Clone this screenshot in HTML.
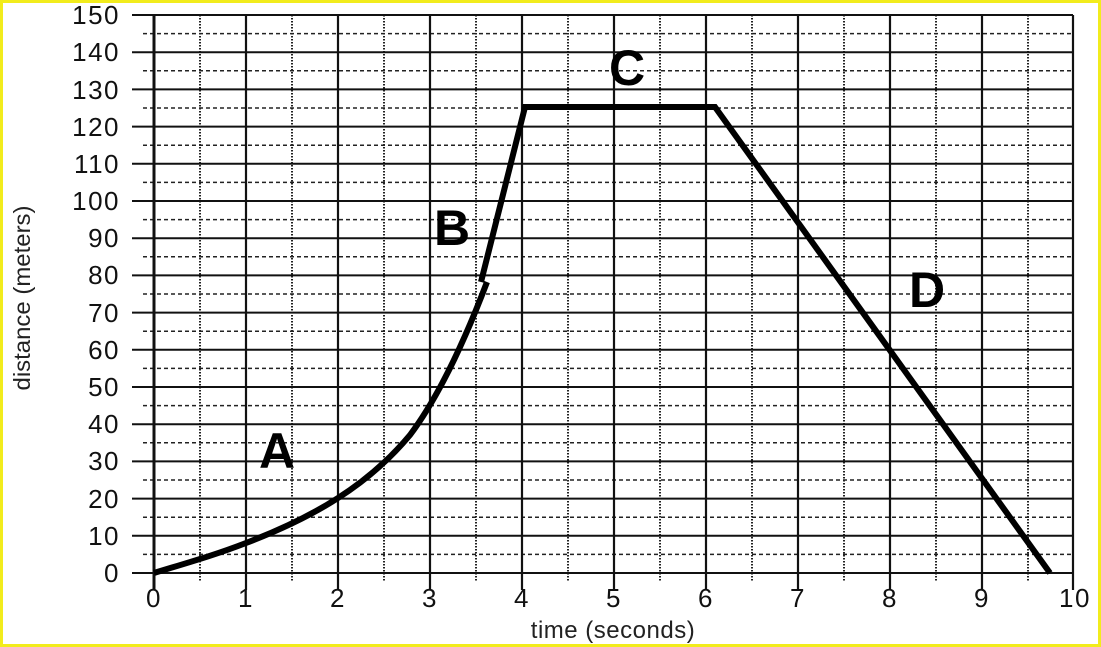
<!DOCTYPE html>
<html><head><meta charset="utf-8"><style>
html,body{margin:0;padding:0;background:#fff}
svg{display:block}
</style></head><body>
<svg width="1101" height="647" viewBox="0 0 1101 647" xmlns="http://www.w3.org/2000/svg">
<rect x="0" y="0" width="1101" height="647" fill="#fff"/>
<rect x="1.5" y="1.5" width="1098" height="644" fill="none" stroke="#f2ec1c" stroke-width="3"/>
<g id="grid">
<g stroke="#222" stroke-width="1.5" stroke-dasharray="4,3">
<line x1="143" x2="1073" y1="554.4" y2="554.4"/><line x1="143" x2="1073" y1="517.2" y2="517.2"/><line x1="143" x2="1073" y1="480" y2="480"/><line x1="143" x2="1073" y1="442.8" y2="442.8"/><line x1="143" x2="1073" y1="405.6" y2="405.6"/><line x1="143" x2="1073" y1="368.4" y2="368.4"/><line x1="143" x2="1073" y1="331.2" y2="331.2"/><line x1="143" x2="1073" y1="294" y2="294"/><line x1="143" x2="1073" y1="256.8" y2="256.8"/><line x1="143" x2="1073" y1="219.6" y2="219.6"/><line x1="143" x2="1073" y1="182.4" y2="182.4"/><line x1="143" x2="1073" y1="145.2" y2="145.2"/><line x1="143" x2="1073" y1="108" y2="108"/><line x1="143" x2="1073" y1="70.8" y2="70.8"/><line x1="143" x2="1073" y1="33.6" y2="33.6"/>
</g>
<g stroke="#222" stroke-width="2" stroke-dasharray="1.5,1.5">
<line y1="15" y2="581" x1="200" x2="200"/><line y1="15" y2="581" x1="292" x2="292"/><line y1="15" y2="581" x1="384" x2="384"/><line y1="15" y2="581" x1="476" x2="476"/><line y1="15" y2="581" x1="568" x2="568"/><line y1="15" y2="581" x1="660" x2="660"/><line y1="15" y2="581" x1="752" x2="752"/><line y1="15" y2="581" x1="844" x2="844"/><line y1="15" y2="581" x1="936" x2="936"/><line y1="15" y2="581" x1="1028" x2="1028"/>
</g>
<g stroke="#111" stroke-width="2">
<line x1="132" x2="1073" y1="573" y2="573"/><line x1="132" x2="1073" y1="535.8" y2="535.8"/><line x1="132" x2="1073" y1="498.6" y2="498.6"/><line x1="132" x2="1073" y1="461.4" y2="461.4"/><line x1="132" x2="1073" y1="424.2" y2="424.2"/><line x1="132" x2="1073" y1="387" y2="387"/><line x1="132" x2="1073" y1="349.8" y2="349.8"/><line x1="132" x2="1073" y1="312.6" y2="312.6"/><line x1="132" x2="1073" y1="275.4" y2="275.4"/><line x1="132" x2="1073" y1="238.2" y2="238.2"/><line x1="132" x2="1073" y1="201" y2="201"/><line x1="132" x2="1073" y1="163.8" y2="163.8"/><line x1="132" x2="1073" y1="126.6" y2="126.6"/><line x1="132" x2="1073" y1="89.4" y2="89.4"/><line x1="132" x2="1073" y1="52.2" y2="52.2"/><line x1="132" x2="1073" y1="15" y2="15"/>
</g>
<g stroke="#111" stroke-width="2.2">
<line y1="15" y2="590" x1="154" x2="154"/><line y1="15" y2="590" x1="246" x2="246"/><line y1="15" y2="590" x1="338" x2="338"/><line y1="15" y2="590" x1="430" x2="430"/><line y1="15" y2="590" x1="522" x2="522"/><line y1="15" y2="590" x1="614" x2="614"/><line y1="15" y2="590" x1="706" x2="706"/><line y1="15" y2="590" x1="798" x2="798"/><line y1="15" y2="590" x1="890" x2="890"/><line y1="15" y2="590" x1="982" x2="982"/><line y1="15" y2="590" x1="1073" x2="1073"/>
</g>
<line x1="154" x2="154" y1="15" y2="590" stroke="#111" stroke-width="3"/>
</g>
<g font-family="Liberation Sans, sans-serif" font-size="26" fill="#111" text-anchor="end" letter-spacing="1.5">
<text x="120" y="582">0</text><text x="120" y="545">10</text><text x="120" y="508">20</text><text x="120" y="470">30</text><text x="120" y="433">40</text><text x="120" y="396">50</text><text x="120" y="359">60</text><text x="120" y="322">70</text><text x="120" y="284">80</text><text x="120" y="247">90</text><text x="120" y="210">100</text><text x="120" y="173">110</text><text x="120" y="136">120</text><text x="120" y="99">130</text><text x="120" y="61">140</text><text x="120" y="24">150</text>
</g>
<g font-family="Liberation Sans, sans-serif" font-size="26" fill="#111" text-anchor="middle" letter-spacing="1.5">
<text x="154" y="607">0</text><text x="246" y="607">1</text><text x="338" y="607">2</text><text x="430" y="607">3</text><text x="522" y="607">4</text><text x="614" y="607">5</text><text x="706" y="607">6</text><text x="798" y="607">7</text><text x="890" y="607">8</text><text x="982" y="607">9</text><text x="1075" y="607">10</text>
</g>
<text x="613" y="638" font-family="Liberation Sans, sans-serif" font-size="24" fill="#222" text-anchor="middle" letter-spacing="0.5">time (seconds)</text>
<text transform="translate(30,298) rotate(-90)" font-family="Liberation Sans, sans-serif" font-size="23" fill="#222" text-anchor="middle" textLength="185" lengthAdjust="spacingAndGlyphs">distance (meters)</text>
<path d="M154,573 C190,562 215,555 246,543 C280,530 310,516 338,498 C360,484 385,465 410,435 C440,395 465,340 487,282" fill="none" stroke="#000" stroke-width="6"/>
<path d="M481,282 L525,107 L715,107 L1050,573" fill="none" stroke="#000" stroke-width="6" stroke-linejoin="miter"/>
<g font-family="Liberation Sans, sans-serif" font-weight="bold" font-size="50" fill="#000" text-anchor="middle">
<text x="277" y="468">A</text><text x="452" y="245">B</text><text x="627" y="85">C</text><text x="927" y="307">D</text>
</g>
</svg>
</body></html>
